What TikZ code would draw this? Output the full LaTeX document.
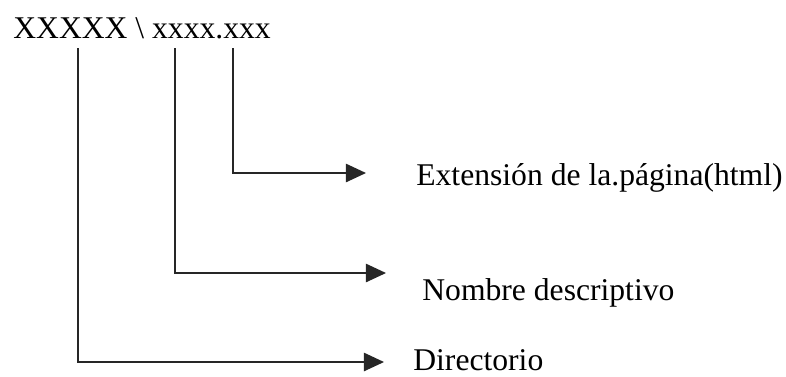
\documentclass[tikz,border=0pt]{standalone}
\usepackage{fontspec}
\setmainfont{Liberation Serif}
\usepackage{tikz}
\usetikzlibrary{arrows.meta}
\tikzset{
  lead/.style={draw=black!85,line width=0.9pt,-{Triangle[length=11.5pt,width=10.5pt]}},
  lbl/.style={anchor=base west,inner sep=0pt,font=\fontsize{18}{20}\selectfont}
}

\begin{document}
\begin{tikzpicture}[x=0.02cm,y=-0.02cm]
\useasboundingbox (0,0) rectangle (786,376);
\node[lbl] (path) at (13,38) {XXXXX \textbackslash\ xxxx.xxx};
\coordinate (dirtop) at (78,48);
\coordinate (nametop) at (175,48);
\coordinate (exttop) at (233,48);
\coordinate (exttip) at (366,173);
\coordinate (nametip) at (386,273);
\coordinate (dirtip) at (384,362);
\node[lbl] (ext) at (416,185) {Extensión de la.página(html)};
\node[lbl] (name) at (422,300) {Nombre descriptivo};
\node[lbl] (dir) at (413,370) {Directorio};
\draw[lead] (exttop) |- (exttip);
\draw[lead] (nametop) |- (nametip);
\draw[lead] (dirtop) |- (dirtip);
\end{tikzpicture}
\end{document}
